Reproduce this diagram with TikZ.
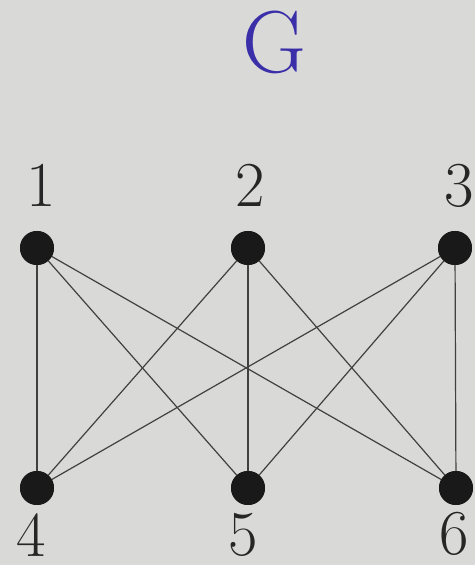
\documentclass[tikz,border=0pt]{standalone}
\begin{document}
\begin{tikzpicture}[x=1pt,y=1pt,
  vtx/.style={circle,fill=black!90,inner sep=0pt,minimum size=34pt},
  lbl/.style={inner sep=0pt,font=\fontsize{64}{68}\selectfont,text=black!85},
  edge/.style={draw=black!75,line width=1.2pt}]
\definecolor{bg}{HTML}{D9D9D7}
\definecolor{gblue}{HTML}{3A2FA8}
\fill[bg] (0,0) rectangle (475,565);
\useasboundingbox (0,0) rectangle (475,565);
\node[vtx] (v1) at (37,317) {};
\node[vtx] (v2) at (248,317) {};
\node[vtx] (v3) at (455,317) {};
\node[vtx] (v4) at (37,77) {};
\node[vtx] (v5) at (248,77) {};
\node[vtx] (v6) at (456,77) {};
\foreach \a in {v1,v2,v3}{
  \foreach \b in {v4,v5,v6}{
    \draw[edge] (\a.center) -- (\b.center);
  }
}
\foreach \a in {v1,v2,v3,v4,v5,v6}{\node[vtx] at (\a) {};}
\node[lbl] (l1) at (41,380) {1};
\node[lbl] (l2) at (250,380) {2};
\node[lbl] (l3) at (459,379) {3};
\node[lbl] (l4) at (31,30) {4};
\node[lbl] (l5) at (243,30) {5};
\node[lbl] (l6) at (454,31) {6};
\node[inner sep=0pt,font=\fontsize{88}{92}\selectfont,text=gblue] (G) at (274,523) {G};
\end{tikzpicture}
\end{document}
